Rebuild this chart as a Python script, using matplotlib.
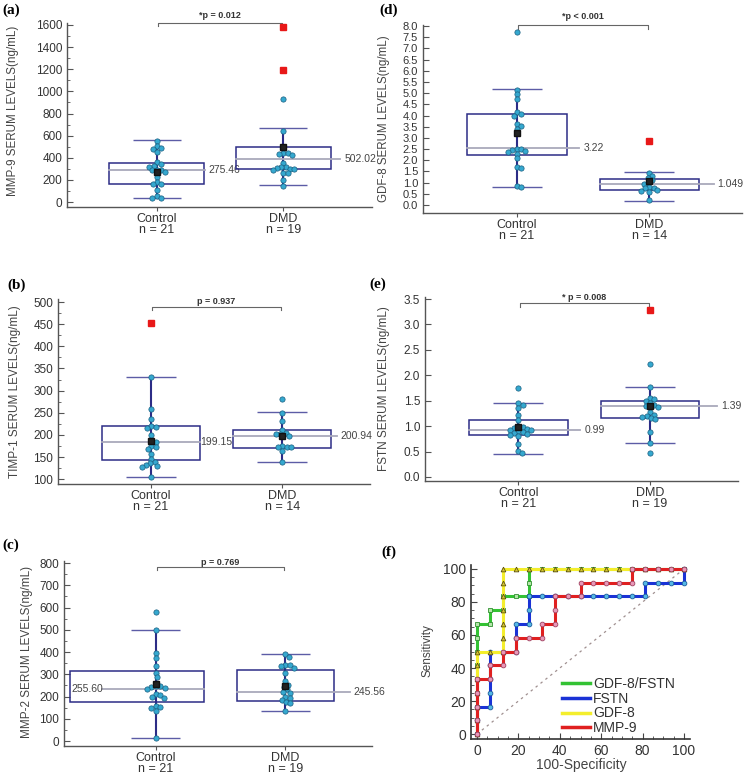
import matplotlib
matplotlib.use("Agg")
import matplotlib.pyplot as plt
from matplotlib.patches import Rectangle
from matplotlib.lines import Line2D
from matplotlib.ticker import MultipleLocator, FormatStrFormatter

plt.rcParams['font.family'] = ['Liberation Sans', 'DejaVu Sans']

W, H = 747, 774

# ---------------- (a) MMP-9 ----------------
a_groups = ['Control\nn = 21', 'DMD\nn = 19']
a_ctrl = [555, 505, 490, 480, 455, 360, 345, 330, 320, 290, 290, 285, 270, 230, 185, 165, 160, 110, 50, 40, 40]
a_dmd = [935, 645, 445, 440, 430, 425, 355, 320, 315, 310, 300, 300, 290, 265, 260, 200, 145]
a_outl = [[], [1580, 1195]]
a_q1 = [166, 295]
a_med = [289, 385]
a_q3 = [349, 500]
a_lo = [33, 150]
a_hi = [560, 672]
a_mean = [275, 500]
a_mean_txt = ['275.46', '502.02']
a_p = '*p = 0.012'

# ---------------- (b) TIMP-1 ----------------
b_groups = ['Control\nn = 21', 'DMD\nn = 14']
b_ctrl = [330, 258, 236, 220, 218, 216, 199, 186, 185, 174, 172, 167, 157, 146, 139, 136, 133, 130, 128, 104]
b_dmd = [280, 250, 231, 212, 205, 203, 201, 197, 175, 173, 172, 172, 163, 138]
b_outl = [[453], []]
b_q1 = [144, 171]
b_med = [184, 198]
b_q3 = [219, 211]
b_lo = [104, 138]
b_hi = [330, 252]
b_mean = [186, 198]
b_mean_txt = ['199.15', '200.94']
b_p = 'p = 0.937'

# ---------------- (c) MMP-2 ----------------
c_groups = ['Control\nn = 21', 'DMD\nn = 19']
c_ctrl = [580, 500, 397, 374, 337, 308, 289, 247, 246, 245, 240, 236, 210, 205, 196, 192, 158, 155, 150, 134, 14]
c_dmd = [391, 379, 342, 340, 338, 330, 304, 271, 254, 245, 232, 221, 216, 200, 195, 186, 176, 170, 134]
c_outl = [[], []]
c_q1 = [177, 180]
c_med = [234, 221]
c_q3 = [317, 318]
c_lo = [14, 134]
c_hi = [500, 392]
c_mean = [256, 246]
c_mean_txt = ['255.60', '245.56']
c_p = 'p = 0.769'

# ---------------- (d) GDF-8 ----------------
d_groups = ['Control\nn = 21', 'DMD\nn = 14']
d_ctrl = [7.75, 5.15, 4.95, 4.75, 4.15, 4.05, 4.0, 3.6, 3.55, 3.4, 2.5, 2.5, 2.45, 2.4, 2.35, 2.3, 2.1, 1.7, 1.65, 0.85, 0.82]
d_dmd = [1.45, 1.3, 1.2, 1.1, 1.0, 0.95, 0.8, 0.78, 0.75, 0.65, 0.62, 0.6, 0.2]
d_outl = [[], [2.85]]
d_q1 = [2.22, 0.66]
d_med = [2.55, 0.92]
d_q3 = [4.05, 1.15]
d_lo = [0.82, 0.18]
d_hi = [5.2, 1.48]
d_mean = [3.2, 1.05]
d_mean_txt = ['3.22', '1.049']
d_p = '*p < 0.001'

# ---------------- (e) FSTN ----------------
e_groups = ['Control\nn = 21', 'DMD\nn = 19']
e_ctrl = [1.75, 1.45, 1.42, 1.35, 1.22, 1.12, 1.0, 0.99, 0.97, 0.95, 0.93, 0.92, 0.9, 0.88, 0.86, 0.84, 0.82, 0.8, 0.64, 0.52, 0.47]
e_dmd = [2.22, 1.77, 1.55, 1.53, 1.5, 1.45, 1.42, 1.4, 1.38, 1.27, 1.22, 1.2, 1.18, 1.15, 1.13, 0.89, 0.67, 0.47]
e_outl = [[], [3.28]]
e_q1 = [0.82, 1.15]
e_med = [0.93, 1.4]
e_q3 = [1.12, 1.5]
e_lo = [0.46, 0.66]
e_hi = [1.45, 1.77]
e_mean = [0.98, 1.4]
e_mean_txt = ['0.99', '1.39']
e_p = '* p = 0.008'

# ---------------- (f) ROC curves ----------------
combo_fpr = [0, 0, 0, 0, 0, 0, 0, 0, 0, 6.25, 6.25, 12.5, 12.5, 18.75, 25, 25, 25,
             31.25, 37.5, 43.75, 50, 56.25, 62.5, 68.75, 75, 81.25, 87.5, 93.75, 100]
combo_tpr = [0, 8.33, 16.67, 25, 33.33, 41.67, 50, 58.33, 66.67, 66.67, 75, 75, 83.33, 83.33, 83.33, 91.67, 100,
             100, 100, 100, 100, 100, 100, 100, 100, 100, 100, 100, 100]
fstn_fpr = [0, 0, 0, 6.25, 6.25, 6.25, 6.25, 6.25, 12.5, 18.75, 18.75, 18.75, 25, 25, 25,
            31.25, 37.5, 43.75, 50, 56.25, 62.5, 68.75, 75, 81.25, 81.25, 87.5, 93.75, 100, 100]
fstn_tpr = [0, 8.33, 16.67, 16.67, 25, 33.33, 41.67, 50, 50, 50, 58.33, 66.67, 66.67, 75, 83.33,
            83.33, 83.33, 83.33, 83.33, 83.33, 83.33, 83.33, 83.33, 83.33, 91.67, 91.67, 91.67, 91.67, 100]
gdf8_fpr = [0, 0, 0, 0, 0, 0, 0, 6.25, 12.5, 12.5, 12.5, 12.5, 12.5, 12.5, 12.5,
            18.75, 25, 31.25, 37.5, 43.75, 50, 56.25, 62.5, 68.75, 75, 81.25, 87.5, 93.75, 100]
gdf8_tpr = [0, 8.33, 16.67, 25, 33.33, 41.67, 50, 50, 50, 58.33, 66.67, 75, 83.33, 91.67, 100,
            100, 100, 100, 100, 100, 100, 100, 100, 100, 100, 100, 100, 100, 100]
mmp9_fpr = [0, 0, 0, 0, 0, 6.25, 6.25, 12.5, 12.5, 18.75, 18.75, 25, 31.25, 31.25, 37.5, 37.5, 37.5,
            43.75, 50, 50, 56.25, 62.5, 68.75, 75, 75, 81.25, 87.5, 93.75, 100]
mmp9_tpr = [0, 8.33, 16.67, 25, 33.33, 33.33, 41.67, 41.67, 50, 50, 58.33, 58.33, 58.33, 66.67, 66.67, 75, 83.33,
            83.33, 83.33, 91.67, 91.67, 91.67, 91.67, 91.67, 100, 100, 100, 100, 100]
roc_names = ['GDF-8/FSTN', 'FSTN', 'GDF-8', 'MMP-9']

NAVY = '#2c2c86'
CAPC = '#5c5ca6'
MEDC = '#a9a9bb'
TEAL = '#35a8cf'
TEAL_E = '#1b5f80'
TXT = '#333333'

fig = plt.figure(figsize=(W / 100, H / 100), dpi=100)


def px_rect(l, t, r, b):
    return [l / W, 1 - b / H, (r - l) / W, (b - t) / H]


def swarm_x(ax, x0, vals, diam):
    # spread points sideways so they do not sit on top of each other
    tr = ax.transData
    inv = tr.inverted()
    done = []
    xs = []
    for v in vals:
        cx, cy = tr.transform((x0, v))
        best = cx
        for step in range(0, 80):
            ok = False
            for sgn in ((0,) if step == 0 else (1, -1)):
                px = cx + sgn * step * 0.5
                if all((px - qx) ** 2 + (cy - qy) ** 2 >= diam ** 2 for qx, qy in done):
                    best = px
                    ok = True
                    break
            if ok:
                break
        done.append((best, cy))
        xs.append(inv.transform((best, cy))[0])
    return xs


def box_panel(rect, groups, pts, outl, q1, med, q3, lo, hi, mean, mean_txt, ptxt,
              ylabel, ylim, ystep, yminor, fmt, xlim, lab_dx, ylab_pos, ylab_size,
              bracket, ytick_size=8.5, half_left=(0.375, 0.375)):
    ax = fig.add_axes(rect)
    ax.set_xlim(*xlim)
    ax.set_ylim(*ylim)
    for s in ['top', 'right']:
        ax.spines[s].set_visible(False)
    for s in ['left', 'bottom']:
        ax.spines[s].set_color('#555555')
        ax.spines[s].set_linewidth(1.0)
    ax.yaxis.set_major_locator(MultipleLocator(ystep))
    if yminor:
        ax.yaxis.set_minor_locator(MultipleLocator(yminor))
    ax.yaxis.set_major_formatter(FormatStrFormatter(fmt))
    ax.tick_params(axis='y', which='major', direction='in', length=4, pad=3.5,
                   labelsize=ytick_size, colors='#555555', labelcolor=TXT)
    ax.tick_params(axis='y', which='minor', direction='in', length=2, colors='#555555')
    ax.set_xticks([1, 2])
    ax.set_xticklabels(groups, linespacing=0.92)
    ax.tick_params(axis='x', direction='out', length=3, pad=1.0, labelsize=9,
                   colors='#555555', labelcolor=TXT)

    for i in range(2):
        x = i + 1
        bl = x - half_left[i]
        br = x + 0.375
        ax.vlines(x, lo[i], hi[i], color=NAVY, lw=1.5, zorder=2)
        ax.hlines([lo[i], hi[i]], x - 0.19, x + 0.19, color=CAPC, lw=1.0, zorder=2)
        ax.add_patch(Rectangle((bl, q1[i]), br - bl, q3[i] - q1[i], fill=False,
                               ec=NAVY, lw=1.1, zorder=3))
        dx = lab_dx[i]
        if dx > 0:
            ax.plot([bl, max(br, x + dx - 0.03)], [med[i], med[i]], color=MEDC, lw=1.3, zorder=3)
        else:
            ax.plot([x + dx + 0.24, br], [med[i], med[i]], color=MEDC, lw=1.3, zorder=3)
        ax.text(x + dx, med[i], mean_txt[i], ha='left', va='center', fontsize=7.5, color='#444444')

        xs = swarm_x(ax, x, pts[i], 4.4)
        ax.plot(xs, pts[i], 'o', ms=3.8, mfc=TEAL, mec=TEAL_E, mew=0.5, zorder=4, ls='none')
        if outl[i]:
            ax.plot([x] * len(outl[i]), outl[i], 's', ms=4.2, mfc='#e81818', mec='#e81818',
                    zorder=5, ls='none', clip_on=False)
        ax.plot([x], [mean[i]], 's', ms=4.0, mfc='#222222', mec='#111111', zorder=6)

    top, drop, py = bracket
    ax.plot([1.01, 1.01, 1.99, 1.99], [drop, top, top, drop], color='#666666', lw=0.8,
            transform=ax.get_xaxis_transform(), clip_on=False)
    ax.text(1.5, py, ptxt, ha='center', va='center', fontsize=6.5, fontweight='bold',
            color=TXT, transform=ax.get_xaxis_transform())
    ax.text(ylab_pos[0], ylab_pos[1], ylabel, rotation=90, ha='center', va='center',
            fontsize=ylab_size, color='#444444', transform=ax.transAxes)
    return ax


box_panel(px_rect(67, 23, 372, 207), a_groups, [a_ctrl, a_dmd], a_outl, a_q1, a_med, a_q3,
          a_lo, a_hi, a_mean, a_mean_txt, a_p, 'MMP-9 SERUM LEVELS(ng/mL)',
          (-45, 1618), 200, 100, '%d', (0.29, 2.70), [0.41, 0.48], (-0.177, 0.52), 8.4,
          (1.002, 0.985, 1.043))

box_panel(px_rect(423, 25, 742, 213), d_groups, [d_ctrl, d_dmd], d_outl, d_q1, d_med, d_q3,
          d_lo, d_hi, d_mean, d_mean_txt, d_p, 'GDF-8 SERUM LEVELS(ng/mL)',
          (-0.36, 8.05), 0.5, None, '%.1f', (0.29, 2.70), [0.5, 0.515], (-0.122, 0.5), 8.3,
          (1.0, 0.979, 1.043), ytick_size=8)

box_panel(px_rect(58, 299, 370, 484), b_groups, [b_ctrl, b_dmd], b_outl, b_q1, b_med, b_q3,
          b_lo, b_hi, b_mean, b_mean_txt, b_p, 'TIMP-1 SERUM LEVELS(ng/mL)',
          (89, 507), 50, 25, '%d', (0.29, 2.67), [0.375, 0.445], (-0.138, 0.5), 8.5,
          (0.957, 0.94, 0.984))

box_panel(px_rect(425, 297, 738, 481), e_groups, [e_ctrl, e_dmd], e_outl, e_q1, e_med, e_q3,
          e_lo, e_hi, e_mean, e_mean_txt, e_p, 'FSTN SERUM LEVELS(ng/mL)',
          (-0.08, 3.54), 0.5, None, '%.1f', (0.29, 2.67), [0.5, 0.54], (-0.131, 0.5), 8.5,
          (0.967, 0.946, 1.0))

box_panel(px_rect(64, 561, 372, 746), c_groups, [c_ctrl, c_dmd], c_outl, c_q1, c_med, c_q3,
          c_lo, c_hi, c_mean, c_mean_txt, c_p, 'MMP-2 SERUM LEVELS(ng/mL)',
          (-22, 809), 100, 50, '%d', (0.29, 2.67), [-0.655, 0.53], (-0.12, 0.51), 8.5,
          (0.968, 0.951, 0.99), half_left=(0.664, 0.375))

# ---------------- ROC panel ----------------
ax = fig.add_axes(px_rect(471, 565, 690, 739))
ax.set_xlim(-2.9, 102.9)
ax.set_ylim(-3, 102.4)
for s in ['top', 'right']:
    ax.spines[s].set_visible(False)
for s in ['left', 'bottom']:
    ax.spines[s].set_color('#333333')
    ax.spines[s].set_linewidth(1.2)
ax.xaxis.set_major_locator(MultipleLocator(20))
ax.yaxis.set_major_locator(MultipleLocator(20))
ax.xaxis.set_minor_locator(MultipleLocator(5))
ax.yaxis.set_minor_locator(MultipleLocator(5))
ax.tick_params(which='major', direction='in', length=4, labelsize=10, pad=3.5,
               colors='#444444', labelcolor=TXT)
ax.tick_params(which='minor', direction='in', length=2, colors='#444444')

ax.plot([0, 100], [0, 100], ls=(0, (2, 3)), color='#a09090', lw=0.9, zorder=1)
roc_style = [
    (combo_fpr, combo_tpr, '#33c233', 's', '#b4e6aa', '#2f8f2f'),
    (fstn_fpr, fstn_tpr, '#1a32d6', 'o', '#55b8e6', '#1a5a9a'),
    (gdf8_fpr, gdf8_tpr, '#f4ee2c', '^', '#d6c630', '#5a5010'),
    (mmp9_fpr, mmp9_tpr, '#e02020', 'o', '#e898b8', '#a04060'),
]
handles = []
for fx, fy, col, mk, mfc, mec in roc_style:
    ax.plot(fx, fy, color=col, lw=2.2, marker=mk, ms=3.4, mfc=mfc, mec=mec, mew=0.6,
            clip_on=False, zorder=3)
    handles.append(Line2D([0], [0], color=col, lw=2.5))
ax.legend(handles, roc_names, loc='lower left', bbox_to_anchor=(0.39, -0.01), frameon=False,
          fontsize=10, handlelength=2.0, handletextpad=0.25, labelspacing=0.05,
          borderaxespad=0.0)
for t in ax.get_legend().get_texts():
    t.set_color(TXT)
ax.text(-0.2, 0.506, 'Sensitivity', rotation=90, ha='center', va='center', fontsize=8.5,
        color='#444444', transform=ax.transAxes)
ax.text(0.502, -0.15, '100-Specificity', ha='center', va='center', fontsize=10,
        color='#444444', transform=ax.transAxes)

# panel letters
for lab, px, py in [('(a)', 11, 10), ('(d)', 389, 10), ('(b)', 17, 285),
                    ('(e)', 378, 284), ('(c)', 11, 545), ('(f)', 389, 552)]:
    fig.text(px / W, 1 - py / H, lab, ha='center', va='center', fontsize=11,
             fontweight='bold', family=['Liberation Serif', 'DejaVu Serif'])

fig.savefig('out.png', dpi=100)
